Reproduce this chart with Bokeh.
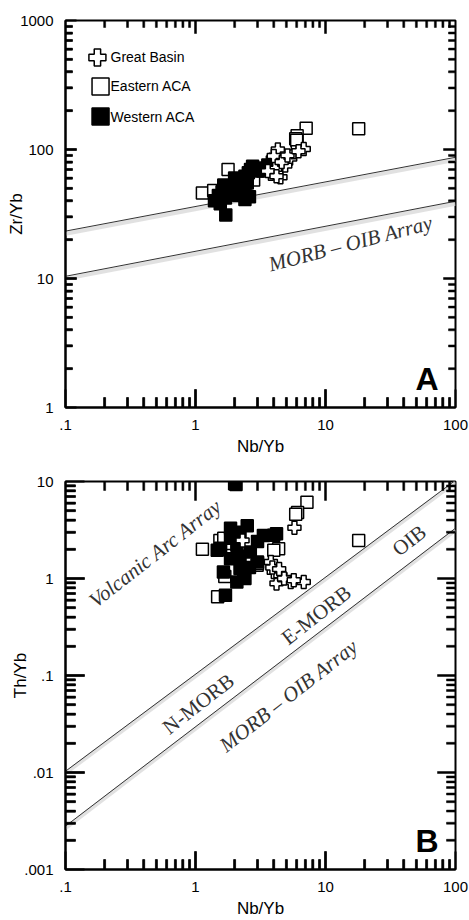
from bokeh.plotting import figure
from bokeh.models import FixedTicker, Range1d, BoxAnnotation
from bokeh.layouts import column
from bokeh.embed import file_html
from bokeh.resources import INLINE
from bokeh.core.properties import value

# ---------------- Panel A: Zr/Yb vs Nb/Yb ----------------
gb_a_nb = [3.8, 4.5, 4.3, 6.8, 5.35, 4.9, 4.1, 5.7, 4.0, 3.6, 4.6, 5.1, 6.2, 4.2]
gb_a_zr = [65, 61, 100, 101, 85, 75, 71, 95, 89, 68, 80, 90, 97, 62]

ea_a_nb = [1.13, 1.78, 18.0, 7.1, 6.05, 5.9, 1.38, 2.8, 3.3, 4.1, 2.4, 6.0]
ea_a_zr = [46, 70, 145, 146, 128, 121, 48, 58, 68, 82, 52, 118]

wa_a_nb = [1.71, 1.4, 1.5, 1.55, 1.6, 1.7, 1.75, 1.85, 1.9, 2.0, 2.1, 2.15, 2.25,
           2.35, 2.4, 2.5, 2.55, 2.65, 2.75, 2.3, 3.0, 3.3, 3.6, 3.9, 4.1, 1.65,
           2.0, 2.6, 2.4]
wa_a_zr = [31, 40, 44, 38, 47, 42, 50, 45, 52, 48, 55, 44, 58,
           50, 62, 55, 66, 70, 74, 45, 68, 72, 76, 80, 84, 53,
           60, 43, 41]

# ---------------- Panel B: Th/Yb vs Nb/Yb ----------------
gb_b_nb = [5.77, 6.8, 5.4, 4.2, 4.0, 4.5, 3.8, 2.3, 4.8, 3.9, 5.7, 4.4]
gb_b_th = [3.34, 0.92, 0.92, 0.89, 1.17, 1.08, 1.48, 2.47, 1.0, 1.3, 0.96, 1.25]

ea_b_nb = [1.13, 1.48, 18.0, 7.2, 6.1, 5.9, 1.68, 1.54, 4.36, 2.98, 1.78, 4.0, 3.0, 1.65]
ea_b_th = [2.0, 0.65, 2.47, 6.1, 4.8, 4.6, 1.05, 2.47, 2.03, 1.37, 2.3, 1.95, 1.43, 2.6]

wa_b_nb = [2.0, 2.05, 1.7, 2.2, 1.86, 1.47, 4.0, 2.2, 2.08, 3.0, 2.64, 1.86, 2.35,
           1.64, 3.33, 1.86, 2.5, 4.2, 2.08, 3.0, 1.56, 2.4, 2.6, 2.2]
wa_b_th = [9.5, 9.3, 0.67, 3.0, 2.6, 1.95, 2.8, 1.27, 0.92, 2.4, 1.88, 1.6, 1.08,
           1.17, 2.78, 3.3, 3.5, 2.9, 2.2, 1.48, 2.05, 1.0, 1.3, 1.7]

# MORB-OIB array boundaries, given at Nb/Yb = 0.1 and 100
array_nb = [0.1, 100]
a_upper = [23.3, 87]
a_lower = [10.4, 39.7]
b_upper = [0.0103, 10.3]
b_lower = [0.0028, 3.3]

# axis ticks
x_ticks = [0.1, 1, 10, 100]
x_tick_labels = [".1", "1", "10", "100"]
a_y_ticks = [1, 10, 100, 1000]
a_y_tick_labels = ["1", "10", "100", "1000"]
b_y_ticks = [0.001, 0.01, 0.1, 1, 10]
b_y_tick_labels = [".001", ".01", ".1", "1", "10"]

legend_labels = ["Great Basin", "Eastern ACA", "Western ACA"]

SANS = "Liberation Sans"
SERIF = "Liberation Serif"
INK = "#333333"
FRAME_W = 390  # plot frame width in px, used to size the inward tick marks


def minor_ticks(ticks):
    return [t * k for t in ticks[:-1] for k in range(2, 10)]


def style_axis(ax, ticks, labels, major_in, minor_in):
    ax.ticker = FixedTicker(ticks=ticks, minor_ticks=minor_ticks(ticks))
    ax.axis_line_width = 2
    ax.axis_line_color = "black"
    ax.major_tick_in = major_in
    ax.major_tick_out = 0
    ax.minor_tick_in = minor_in
    ax.minor_tick_out = 0
    ax.major_tick_line_color = "black"
    ax.minor_tick_line_color = "black"
    ax.major_tick_line_width = 2
    ax.minor_tick_line_width = 2
    ax.major_label_overrides = dict(zip(ticks, labels))
    ax.major_label_text_font = SANS
    ax.major_label_text_font_size = "15px"
    ax.major_label_text_color = "black"


def frame_ticks(p, xr, yr, x_ticks_, y_ticks_, frame_h, lens):
    """Inward tick marks on all four frame edges, drawn as thin filled boxes
    (2 px wide); a length in px becomes a multiplicative step on the log scales."""
    (bot_maj, bot_min), (top_maj, top_min), (lft_maj, lft_min), (rgt_maj, rgt_min) = lens
    xmin, xmax = xr
    ymin, ymax = yr
    x_dec = FRAME_W / 3.0
    y_dec = frame_h / (len(y_ticks_) - 1.0)
    fx = lambda px: 10 ** (px / x_dec)
    fy = lambda px: 10 ** (px / y_dec)
    xm = minor_ticks(x_ticks_)
    ym = minor_ticks(y_ticks_)
    xM = list(x_ticks_[1:-1])   # the corner ticks coincide with the frame lines
    yM = list(y_ticks_[1:-1])
    style = dict(fill_color="black", fill_alpha=1.0, line_color="black",
                 line_alpha=1.0, line_width=0.5, level="overlay")

    def vbox(x, y0, y1):
        p.add_layout(BoxAnnotation(left=x / fx(1), right=x * fx(1),
                                   bottom=min(y0, y1), top=max(y0, y1), **style))

    def hbox(y, x0, x1):
        p.add_layout(BoxAnnotation(bottom=y / fy(1), top=y * fy(1),
                                   left=min(x0, x1), right=max(x0, x1), **style))

    for xs, length in ((xM, bot_maj), (xm, bot_min)):
        for x in xs:
            vbox(x, ymin, ymin * fy(length))
    for xs, length in ((xM, top_maj), (xm, top_min)):
        for x in xs:
            vbox(x, ymax, ymax / fy(length))
    for ys, length in ((yM, lft_maj), (ym, lft_min)):
        for y in ys:
            hbox(y, xmin, xmin * fx(length))
    for ys, length in ((yM, rgt_maj), (ym, rgt_min)):
        for y in ys:
            hbox(y, xmax, xmax / fx(length))


def make_panel(y_range, y_ticks, y_labels, y_title, top_border, bottom_border, height,
               bottom_lens, left_lens):
    p = figure(width=469, height=height, x_axis_type="log", y_axis_type="log",
               x_range=Range1d(0.1, 100), y_range=Range1d(*y_range),
               output_backend="svg", toolbar_location=None,
               min_border_left=65, min_border_right=14,
               min_border_top=top_border, min_border_bottom=bottom_border)
    p.xgrid.grid_line_color = None
    p.ygrid.grid_line_color = None
    p.outline_line_color = "black"
    p.outline_line_width = 2

    xa = p.xaxis[0]
    ya = p.yaxis[0]
    style_axis(xa, x_ticks, x_tick_labels, *bottom_lens)
    style_axis(ya, y_ticks, y_labels, *left_lens)
    xa.major_label_standoff = 12
    ya.major_label_standoff = 12
    xa.axis_label = "Nb/Yb"
    ya.axis_label = y_title
    for ax in (xa, ya):
        ax.axis_label_text_font = SANS
        ax.axis_label_text_font_size = "17px"
        ax.axis_label_text_font_style = "normal"
        ax.axis_label_text_color = "black"
    xa.axis_label_standoff = 4
    ya.axis_label_standoff = -9
    return p


def array_line(p, xs, ys):
    # soft shadow under each boundary, then the line itself
    p.line(xs, [v * 0.955 for v in ys], line_color="#d9d9d9", line_width=4, line_alpha=0.8)
    p.line(xs, ys, line_color=INK, line_width=1)


def plot_groups(p, gb, ea, wa):
    p.scatter(ea[0], ea[1], marker="square", size=12, fill_color="white",
              line_color="black", line_width=1.5)
    p.scatter(wa[0], wa[1], marker="square", size=12, fill_color="black",
              line_color="black", line_width=1.5)
    p.scatter(gb[0], gb[1], marker="plus", size=13, fill_color="white",
              line_color="black", line_width=1.5)


# ---------------- Panel A ----------------
pa = make_panel((1, 1000), a_y_ticks, a_y_tick_labels, "Zr/Yb", 20, 53, 460,
                (18, 10), (11, 7))
array_line(pa, array_nb, a_upper)
array_line(pa, array_nb, a_lower)
plot_groups(pa, (gb_a_nb, gb_a_zr), (ea_a_nb, ea_a_zr), (wa_a_nb, wa_a_zr))

pa.text(x=[15.6], y=[18.7], text=["MORB – OIB Array"], angle=14.7, angle_units="deg",
        text_font=value(SERIF), text_font_style="italic", text_font_size="21px",
        text_color=INK, text_align="center", text_baseline="middle")
pa.text(x=[74], y=[1.66], text=["A"], text_font=value(SANS), text_font_style="bold",
        text_font_size="32px", text_color="black", text_align="right",
        text_baseline="middle")

# key: symbol column and label column in the upper-left corner
key_y = [517, 308, 180]
pa.scatter([0.176], [key_y[0]], marker="plus", size=17, fill_color="white",
           line_color="black", line_width=1.5)
pa.scatter([0.186], [key_y[1]], marker="square", size=17, fill_color="white",
           line_color="black", line_width=1.5)
pa.scatter([0.186], [key_y[2]], marker="square", size=17, fill_color="black",
           line_color="black", line_width=1.5)
pa.text(x=[0.222] * 3, y=key_y, text=legend_labels, text_font=value(SANS),
        text_font_size="14px", text_color="black", text_align="left",
        text_baseline="middle")
frame_ticks(pa, (0.1, 100), (1, 1000), x_ticks, a_y_ticks, 387,
            ((18, 10), (13, 7), (11, 7), (12, 7)))

# ---------------- Panel B ----------------
pb = make_panel((0.001, 10), b_y_ticks, b_y_tick_labels, "Th/Yb", 21, 50, 460,
                (18, 10), (19, 10))
array_line(pb, array_nb, b_upper)
array_line(pb, array_nb, b_lower)
plot_groups(pb, (gb_b_nb, gb_b_th), (ea_b_nb, ea_b_th), (wa_b_nb, wa_b_th))

serif_labels = [
    (["Volcanic Arc Array"], 0.49, 1.82, "italic"),
    (["N-MORB"], 1.05, 0.051, "normal"),
    (["E-MORB"], 8.5, 0.42, "normal"),
    (["OIB"], 44, 2.47, "normal"),
    (["MORB – OIB Array"], 5.2, 0.062, "italic"),
]
for txt, lx, ly, style in serif_labels:
    pb.text(x=[lx], y=[ly], text=txt, angle=38, angle_units="deg",
            text_font=value(SERIF), text_font_style=style, text_font_size="21px",
            text_color=INK, text_align="center", text_baseline="middle")
pb.text(x=[74], y=[0.00199], text=["B"], text_font=value(SANS), text_font_style="bold",
        text_font_size="32px", text_color="black", text_align="right",
        text_baseline="middle")
frame_ticks(pb, (0.1, 100), (0.001, 10), x_ticks, b_y_ticks, 389,
            ((18, 10), (19, 9), (19, 10), (18, 9)))

layout = column(pa, pb, spacing=0)
open("out.html", "w").write(file_html(layout, INLINE))
